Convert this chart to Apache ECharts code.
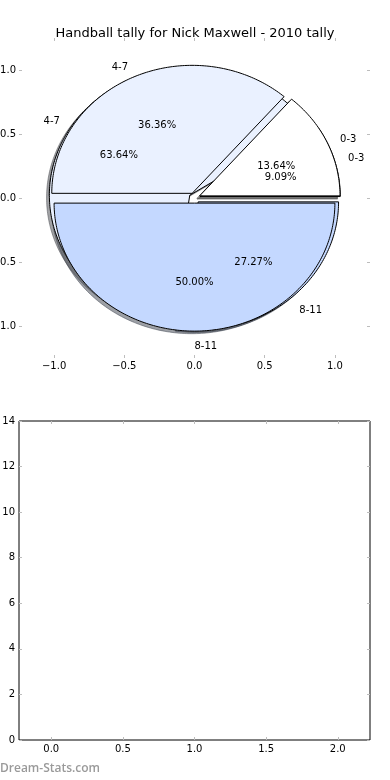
<!DOCTYPE html>
<html>
<head>
<meta charset="utf-8">
<script src="https://cdn.jsdelivr.net/npm/echarts@6/dist/echarts.min.js"></script>
<style>html,body{margin:0;padding:0;background:#fff}#c{width:390px;height:780px}</style>
</head>
<body>
<div id="c"></div>
<script>
// ---- data ----
const categories = ['0-3', '4-7', '8-11'];
const tallyA = [3, 8, 11];   // 13.64%, 36.36%, 50.00%  (drawn on top)
const tallyB = [1, 7, 3];    // 9.09%, 63.64%, 27.27%   (drawn underneath)
const pieTicks = [-1.0, -0.5, 0.0, 0.5, 1.0];
const barXTicks = [0.0, 0.5, 1.0, 1.5, 2.0];
const barYTicks = [0, 2, 4, 6, 8, 10, 12, 14];
const titleText = 'Handball tally for Nick Maxwell - 2010 tally';

// ---- styles ----
const sliceColors = ['#ffffff', '#eaf1ff', '#c4d8ff'];
const EXPLODE = 0.04;
const SHADOW = -0.02;
const FONT = 'DejaVu Sans';
const TEXT_DY = 2;

function buildWedges(tally, pieId) {
  const total = tally.reduce((a, b) => a + b, 0);
  let acc = 0;
  return tally.map((v, i) => {
    const t1 = acc / total * 360;
    acc += v;
    const t2 = acc / total * 360;
    return [pieId, i, t1, t2, v / total * 100];
  });
}
const wedgesA = buildWedges(tallyA, 0);
const wedgesB = buildWedges(tallyB, 1);

function darken(hex) {
  const r = parseInt(hex.slice(1, 3), 16), g = parseInt(hex.slice(3, 5), 16), b = parseInt(hex.slice(5, 7), 16);
  return 'rgba(' + Math.round(r * 0.3) + ',' + Math.round(g * 0.3) + ',' + Math.round(b * 0.3) + ',0.5)';
}

function wedgeCenter(t1, t2) {
  const m = (t1 + t2) / 2 * Math.PI / 180;
  return [EXPLODE * Math.cos(m), EXPLODE * Math.sin(m)];
}

function wedgePts(api, cx, cy, t1, t2) {
  const pts = [api.coord([cx, cy])];
  const n = Math.max(4, Math.ceil(t2 - t1));
  for (let i = 0; i <= n; i++) {
    const a = (t1 + (t2 - t1) * i / n) * Math.PI / 180;
    pts.push(api.coord([cx + Math.cos(a), cy + Math.sin(a)]));
  }
  return pts;
}

function renderWedge(shadow) {
  return function (params, api) {
    const si = api.value(1), t1 = api.value(2), t2 = api.value(3);
    let [cx, cy] = wedgeCenter(t1, t2);
    const col = sliceColors[si];
    if (shadow) { cx += SHADOW; cy += SHADOW; }
    return {
      type: 'polygon',
      shape: { points: wedgePts(api, cx, cy, t1, t2) },
      style: shadow
        ? { fill: darken(col), stroke: darken(col), lineWidth: 1 }
        : { fill: col, stroke: '#000', lineWidth: 1 }
    };
  };
}

function renderLabels(params, api) {
  const si = api.value(1), t1 = api.value(2), t2 = api.value(3), pct = api.value(4);
  const [cx, cy] = wedgeCenter(t1, t2);
  const m = (t1 + t2) / 2 * Math.PI / 180;
  const lx = cx + 1.1 * Math.cos(m), ly = cy + 1.1 * Math.sin(m);
  const px = cx + 0.6 * Math.cos(m), py = cy + 0.6 * Math.sin(m);
  const lp = api.coord([lx, ly]), pp = api.coord([px, py]);
  return {
    type: 'group',
    children: [
      { type: 'text', x: lp[0], y: lp[1] + TEXT_DY, style: { text: categories[si], fill: '#000', font: '10px "' + FONT + '"', align: lx > -1e-6 ? 'left' : 'right', verticalAlign: 'middle' } },
      { type: 'text', x: pp[0], y: pp[1] + TEXT_DY, style: { text: pct.toFixed(2) + '%', fill: '#000', font: '10px "' + FONT + '"', align: 'center', verticalAlign: 'middle' } }
    ]
  };
}

const fmt1 = v => (v < 0 ? '\u2212' : '') + Math.abs(v).toFixed(1);
const tickStyle = { show: true, inside: true, length: 3, lineStyle: { color: '#bdbdbd', width: 1 } };
const labelStyle = { color: '#000', fontFamily: FONT, fontSize: 10 };
const noLine = { show: false, onZero: false };

const chart = echarts.init(document.getElementById('c'), null, { renderer: 'canvas' });
chart.setOption({
  animation: false,
  backgroundColor: '#fff',
  title: {
    text: titleText, left: 'center', top: 22,
    textStyle: { fontFamily: FONT, fontSize: 13, fontWeight: 'normal', color: '#000' }
  },
  graphic: [{
    type: 'text', left: 0, top: 763,
    style: { text: 'Dream-Stats.com', fill: '#9a9a9a', font: '600 12px "Open Sans"' }
  }],
  grid: [
    { left: 19, top: 38, width: 351, height: 320, show: false, outerBoundsMode: 'none', containLabel: false },
    { left: 19, top: 421, width: 351, height: 319, show: true, borderColor: '#000', borderWidth: 1, backgroundColor: 'transparent', outerBoundsMode: 'none', containLabel: false }
  ],
  xAxis: [
    { gridIndex: 0, type: 'value', min: -1.25, max: 1.25, position: 'bottom',
      axisLine: noLine, splitLine: { show: false },
      axisTick: Object.assign({ customValues: pieTicks }, tickStyle),
      axisLabel: Object.assign({ customValues: pieTicks, formatter: fmt1, margin: 3 }, labelStyle) },
    { gridIndex: 0, type: 'value', min: -1.25, max: 1.25, position: 'top',
      axisLine: noLine, splitLine: { show: false },
      axisTick: Object.assign({ customValues: pieTicks }, tickStyle),
      axisLabel: { show: false } },
    { gridIndex: 1, type: 'value', min: -0.225, max: 2.225, position: 'bottom',
      axisLine: noLine, splitLine: { show: false },
      axisTick: Object.assign({ customValues: barXTicks }, tickStyle),
      axisLabel: Object.assign({ customValues: barXTicks, formatter: fmt1, margin: 4 }, labelStyle) },
    { gridIndex: 1, type: 'value', min: -0.225, max: 2.225, position: 'top',
      axisLine: noLine, splitLine: { show: false },
      axisTick: Object.assign({ customValues: barXTicks }, tickStyle),
      axisLabel: { show: false } }
  ],
  yAxis: [
    { gridIndex: 0, type: 'value', min: -1.25, max: 1.25, position: 'left',
      axisLine: noLine, splitLine: { show: false },
      axisTick: Object.assign({ customValues: pieTicks }, tickStyle),
      axisLabel: Object.assign({ customValues: pieTicks, formatter: fmt1, margin: 3 }, labelStyle) },
    { gridIndex: 0, type: 'value', min: -1.25, max: 1.25, position: 'right',
      axisLine: noLine, splitLine: { show: false },
      axisTick: Object.assign({ customValues: pieTicks }, tickStyle),
      axisLabel: { show: false } },
    { gridIndex: 1, type: 'value', min: 0, max: 14, interval: 2, position: 'left',
      axisLine: noLine, splitLine: { show: false },
      axisTick: Object.assign({ customValues: barYTicks }, tickStyle),
      axisLabel: Object.assign({ customValues: barYTicks, margin: 4 }, labelStyle) },
    { gridIndex: 1, type: 'value', min: 0, max: 14, interval: 2, position: 'right',
      axisLine: noLine, splitLine: { show: false },
      axisTick: Object.assign({ customValues: barYTicks }, tickStyle),
      axisLabel: { show: false } }
  ],
  series: [
    { type: 'custom', xAxisIndex: 0, yAxisIndex: 0, clip: false, silent: true,
      data: wedgesA.concat(wedgesB), renderItem: renderWedge(true) },
    { type: 'custom', xAxisIndex: 0, yAxisIndex: 0, clip: false, silent: true,
      data: wedgesB, renderItem: renderWedge(false) },
    { type: 'custom', xAxisIndex: 0, yAxisIndex: 0, clip: false, silent: true,
      data: wedgesA, renderItem: renderWedge(false) },
    { type: 'custom', xAxisIndex: 0, yAxisIndex: 0, clip: false, silent: true,
      data: wedgesA.concat(wedgesB), renderItem: renderLabels },
    { type: 'line', xAxisIndex: 2, yAxisIndex: 2, data: [], silent: true }
  ]
});
</script>
</body>
</html>
